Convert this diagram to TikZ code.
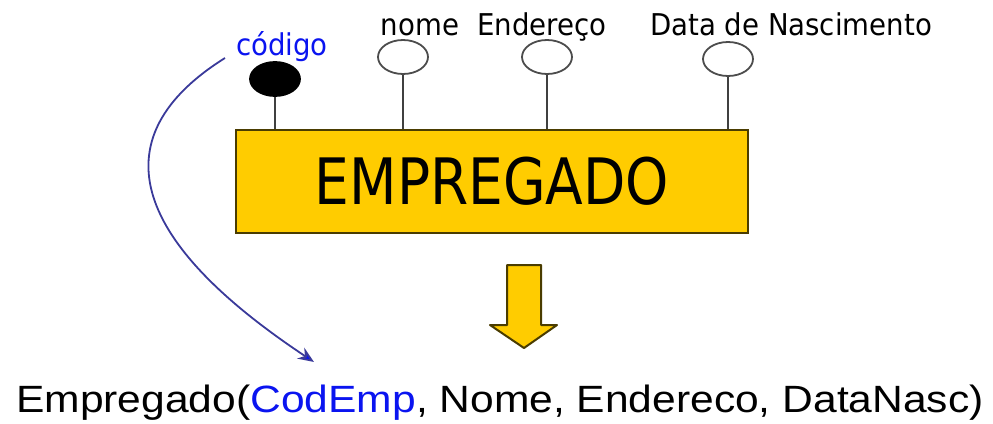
\documentclass[tikz,border=0pt]{standalone}
\usepackage{xcolor}
\usepackage{fontspec}
\usepackage{tikz}
\usetikzlibrary{shapes.geometric,arrows.meta}

\newfontfamily\attrfont[FakeStretch=0.92]{DejaVu Sans}
\newfontfamily\entfont[FakeStretch=0.86]{DejaVu Sans}
\newfontfamily\relfont[FakeStretch=1.12]{Liberation Sans}

\definecolor{ouro}{HTML}{FFCC00}
\definecolor{borda}{HTML}{4A3C00}
\definecolor{azulchave}{HTML}{0A14F0}
\definecolor{azulseta}{HTML}{3A3A9A}

\begin{document}
\begin{tikzpicture}[x=1pt, y=-1pt,
    atrib/.style={ellipse, draw=black!70, line width=1.8pt, fill=white,
        minimum width=50pt, minimum height=34pt, inner sep=0pt},
    chave/.style={atrib, fill=black, draw=black},
    rotulo/.style={anchor=base, inner sep=0pt, font=\attrfont\fontsize{30}{32}\selectfont},
    haste/.style={draw=black!75, line width=2pt}]
            \useasboundingbox (0,0) rectangle (993,423);

            % entidade
            \node[draw=borda, line width=2pt, fill=ouro, minimum width=512pt,
                minimum height=103pt, inner sep=0pt,
                font=\entfont\fontsize{64}{66}\selectfont] (emp) at (492,181.5) {EMPREGADO};

            % atributos
            \node[chave] (cod) at (275,79) {};
            \node[atrib] (nome) at (403,57) {};
            \node[atrib] (end) at (547,57) {};
            \node[atrib] (dat) at (728,59) {};

            \node[rotulo, text=azulchave] (lcod) at (282,55) {código};
            \node[rotulo] (lnome) at (420,35) {nome};
            \node[rotulo] (lend) at (542,35) {Endereço};
            \node[rotulo] (ldat) at (791,35) {Data de Nascimento};

            \draw[haste] (cod.south) -- (cod.south |- emp.north); % codigo
            \draw[haste] (nome.south) -- (nome.south |- emp.north); % nome
            \draw[haste] (end.south) -- (end.south |- emp.north); % endereco
            \draw[haste] (dat.south) -- (dat.south |- emp.north); % data

            % seta para baixo
            \filldraw[fill=ouro, draw=borda, line width=2pt, line join=round]
                (507,265) -- (541,265) -- (541,325) -- (557,325) -- (524,348)
                -- (490,325) -- (507,325) -- cycle;

            % esquema relacional
            \node[anchor=base, inner sep=0pt, font=\relfont\fontsize{38}{40}\selectfont] (rel) at (500,412)
                {Empregado(\textcolor{azulchave}{CodEmp}, Nome, Endereco, DataNasc)};

            \coordinate (ini) at (225,58);
            \coordinate (fim) at (314,362);
            \draw[azulseta, line width=1.8pt, -{Stealth[length=16pt, width=13pt, fill=azulchave]}]
                (ini) .. controls (110,130) and (115,230) .. (fim);
        \end{tikzpicture}
\end{document}
